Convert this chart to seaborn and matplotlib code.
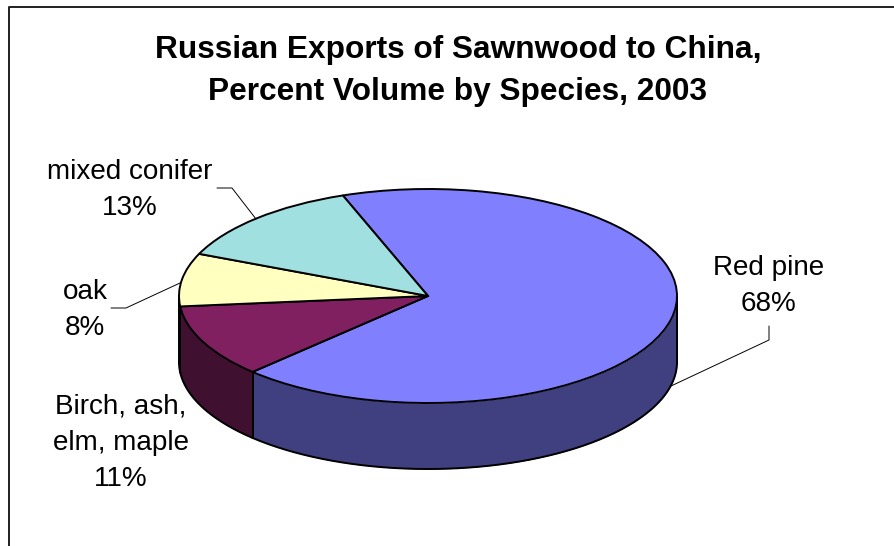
import numpy as np
import matplotlib
matplotlib.use("Agg")
import matplotlib.pyplot as plt
import seaborn as sns

# Data
species = ["Red pine", "Birch, ash,\nelm, maple", "oak", "mixed conifer"]
shares = [68, 11, 8, 13]
face_colors = ["#8080FF", "#802060", "#FFFFC0", "#A0E0E0"]
side_colors = ["#404080", "#401030", "#808060", "#507070"]
title = "Russian Exports of Sawnwood to China,\nPercent Volume by Species, 2003"

# Layout, in pixels of the 894x546 picture
W, H = 894, 546
cx, cy = 428, 296
rx, ry = 249, 107
depth = 66
first_slice_start = 20.0  # degrees left of the top, going clockwise

sns.set_theme(style="white")
plt.rcParams["font.family"] = ["Liberation Sans", "DejaVu Sans"]

fig = plt.figure(figsize=(W / 100, H / 100), dpi=100)
ax = fig.add_axes([0, 0, 1, 1])


def px(x, y):
    # picture pixels -> pie data units
    return (x - cx) / rx, (cy - y) / ry


# Top of the pie
wedges, _ = ax.pie(
    shares,
    colors=face_colors,
    startangle=90 + first_slice_start,
    counterclock=False,
    radius=1,
    wedgeprops={"edgecolor": "black", "linewidth": 1.4, "zorder": 3},
)

# Squash the circle into the tilted ellipse
ax.set_aspect("auto")
ax.set_xlim(px(0, 0)[0], px(W, 0)[0])
ax.set_ylim(px(0, H)[1], px(0, 0)[1])
ax.axis("off")

# Side wall, only the part facing the viewer (pie angles 180..360)
edges = 90 + first_slice_start - np.cumsum([0] + shares) * 3.6
d = depth / ry
for i in range(len(shares)):
    a_start, a_end = edges[i] % 360, (edges[i + 1]) % 360
    if a_start < a_end:
        a_start += 360
    # going clockwise from a_start down to a_end, keep the lower half
    t = np.linspace(a_start, a_end, 300)
    t = t[(np.sin(np.radians(t)) <= 0)]
    if len(t) < 2:
        continue
    x = np.cos(np.radians(t))
    y = np.sin(np.radians(t))
    ax.fill_between(x, y, y - d, color=side_colors[i], linewidth=0, zorder=1)
    ax.plot(x, y - d, color="black", lw=1.4, zorder=2)
    ax.plot([x[0], x[0]], [y[0], y[0] - d], color="black", lw=1.4, zorder=2)
    ax.plot([x[-1], x[-1]], [y[-1], y[-1] - d], color="black", lw=1.4, zorder=2)

# Labels and leader lines
label_pos = [(769, 286), (121, 443), (85, 310), (130, 190)]
leaders = [
    [(769, 326), (769, 340), (671, 386)],
    None,
    [(111, 308), (126, 308), (180, 283)],
    [(217, 188), (232, 188), (256, 219)],
]
for name, share, pos, leader in zip(species, shares, label_pos, leaders):
    x, y = px(*pos)
    ax.text(x, y, f"{name}\n{share}%", ha="center", va="center", fontsize=20.1,
            color="black", linespacing=1.52)
    if leader is not None:
        pts = np.array([px(*p) for p in leader])
        ax.plot(pts[:, 0], pts[:, 1], color="black", lw=0.7, zorder=4)

x, y = px(458, 71)
ax.text(x, y, title, ha="center", va="center", fontsize=22.8, fontweight="bold",
        color="black", linespacing=1.52)

# Chart area border (left and top only, the rest is cut off)
ax.plot(*zip(px(9, H), px(9, 7), px(W, 7)), color="#202020", lw=1.4, clip_on=False)

fig.savefig("out.png", dpi=100, facecolor="white")
